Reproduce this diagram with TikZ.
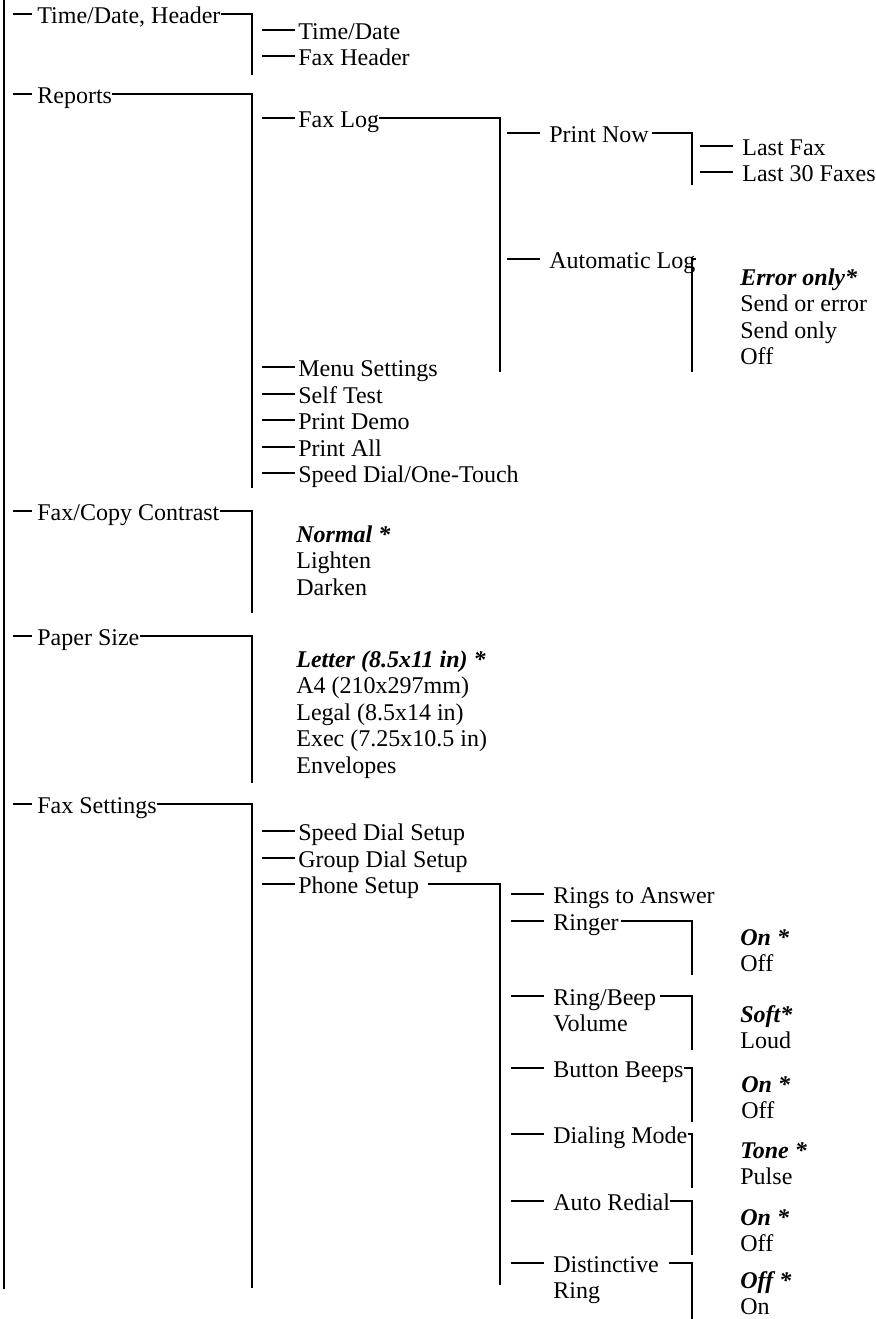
\documentclass[tikz,border=0pt]{standalone}
\usepackage{fontspec}
\setmainfont{Liberation Serif}
\newcommand{\menufont}{\fontsize{12}{13.25}\selectfont}
\newcommand{\dfltopt}[1]{\textbf{\textit{#1}}}
\begin{document}
\begin{tikzpicture}[x=0.5pt, y=-0.5pt,
  item/.style={anchor=base west, inner sep=0pt, font=\menufont, align=left},
  link/.style={line width=0.85pt}
]
\useasboundingbox (0,0) rectangle (876,1319);

% top level
\node[item] (tdh) at (37,23) {Time/Date, Header};
\node[item] (rep) at (37,103) {Reports};
\node[item] (fcc) at (37,520) {Fax/Copy Contrast};
\node[item] (psz) at (37,645) {Paper Size};
\node[item] (fset) at (37,813) {Fax Settings};

% second level (lists sit on the baseline of their last line)
\node[item] (tdate) at (298,39) {Time/Date};
\node[item] (fhdr) at (298,65) {Fax Header};
\node[item] (flog) at (298,127) {Fax Log};
\node[item] (mset) at (298,376) {Menu Settings};
\node[item] (stest) at (298,403) {Self Test};
\node[item] (pdemo) at (298,429) {Print Demo};
\node[item] (pall) at (298,456) {Print All};
\node[item] (sdot) at (298,482) {Speed Dial/One-Touch};
\node[item] (fccopt) at (296,595) {\dfltopt{Normal *}\\Lighten\\Darken};
\node[item] (pszopt) at (296,773)
  {\dfltopt{Letter (8.5x11 in) *}\\A4 (210x297mm)\\Legal (8.5x14 in)\\Exec (7.25x10.5 in)\\Envelopes};
\node[item] (sdset) at (298,840) {Speed Dial Setup};
\node[item] (gdset) at (298,867) {Group Dial Setup};
\node[item] (phset) at (298,893) {Phone Setup};

% third level
\node[item] (pnow) at (549,142) {Print Now};
\node[item] (alog) at (549,268) {Automatic Log};
\node[item] (rans) at (553,903) {Rings to Answer};
\node[item] (ringer) at (553,930) {Ringer};
\node[item] (rbvol) at (553,1031.5) {Ring/Beep\\Volume};
\node[item] (bbeep) at (553,1077) {Button Beeps};
\node[item] (dmode) at (553,1143) {Dialing Mode};
\node[item] (aredial) at (553,1210) {Auto Redial};
\node[item] (dring) at (553,1298.5) {Distinctive\\Ring};

% fourth level and choices
\node[item] (lfax) at (742,155) {Last Fax};
\node[item] (l30) at (742,181) {Last 30 Faxes};
\node[item] (alogopt) at (740,364.5) {\dfltopt{Error only*}\\Send or error\\Send only\\Off};
\node[item] (ringopt) at (740,971.5) {\dfltopt{On *}\\Off};
\node[item] (rbopt) at (740,1048.5) {\dfltopt{Soft*}\\Loud};
\node[item] (bbopt) at (741,1118.5) {\dfltopt{On *}\\Off};
\node[item] (dmopt) at (740,1184.5) {\dfltopt{Tone *}\\Pulse};
\node[item] (aropt) at (740,1251.5) {\dfltopt{On *}\\Off};
\node[item] (dropt) at (740,1314.5) {\dfltopt{Off *}\\On};

% bar ends
\coordinate (roottop) at (4,0);
\coordinate (rootend) at (4,1289);
\coordinate (tdhend) at (252,75);
\coordinate (repend) at (252,488);
\coordinate (fccend) at (252,613);
\coordinate (pszend) at (252,783);
\coordinate (fsetend) at (252,1288);
\coordinate (flogend) at (500,372);
\coordinate (phsetend) at (500,1285);
\coordinate (pnowend) at (692,185);
\coordinate (alogend) at (692,372);
\coordinate (ringerend) at (692,975);
\coordinate (rbvolend) at (692,1050);
\coordinate (bbeepend) at (692,1122);
\coordinate (dmodeend) at (692,1188);
\coordinate (aredialend) at (692,1255);
\coordinate (dringend) at (692,1319);

\draw[link] (roottop) -- (rootend);

% dashes in front of the items
\foreach \n in {tdh,rep,fcc,psz,fset}
  \draw[link] ([xshift=-2.5pt,yshift=4.5pt]\n.base west) -- ++(-19,0);
\foreach \n in {tdate,fhdr,flog,mset,stest,pdemo,pall,sdot,sdset,gdset,phset}
  \draw[link] ([xshift=-1.5pt,yshift=4.5pt]\n.base west) -- ++(-33,0);
\foreach \n/\u in {pnow/4.5,alog/4.5,rans/4.5,ringer/4.5,rbvol/17.75,bbeep/4.5,dmode/4.5,
    aredial/4.5,dring/17.75,lfax/4.5,l30/4.5}
  \draw[link] ([xshift=-4.5pt,yshift=\u pt]\n.base west) -- ++(-33,0);

% brackets to the sub-menus
\foreach \n/\g/\u in {tdh/0/4.5,rep/0/4.5,fcc/0/4.5,psz/0/4.5,fset/0/4.5,flog/0/4.5,
    phset/4.5/4.5,pnow/1.5/4.5,alog/0/4.5,ringer/1/4.5,rbvol/2/17.75,bbeep/0/4.5,
    dmode/0/4.5,aredial/0/4.5,dring/5/17.75}
  \draw[link] ([xshift=\g pt,yshift=\u pt]\n.base east) -| (\n end);
\end{tikzpicture}
\end{document}
